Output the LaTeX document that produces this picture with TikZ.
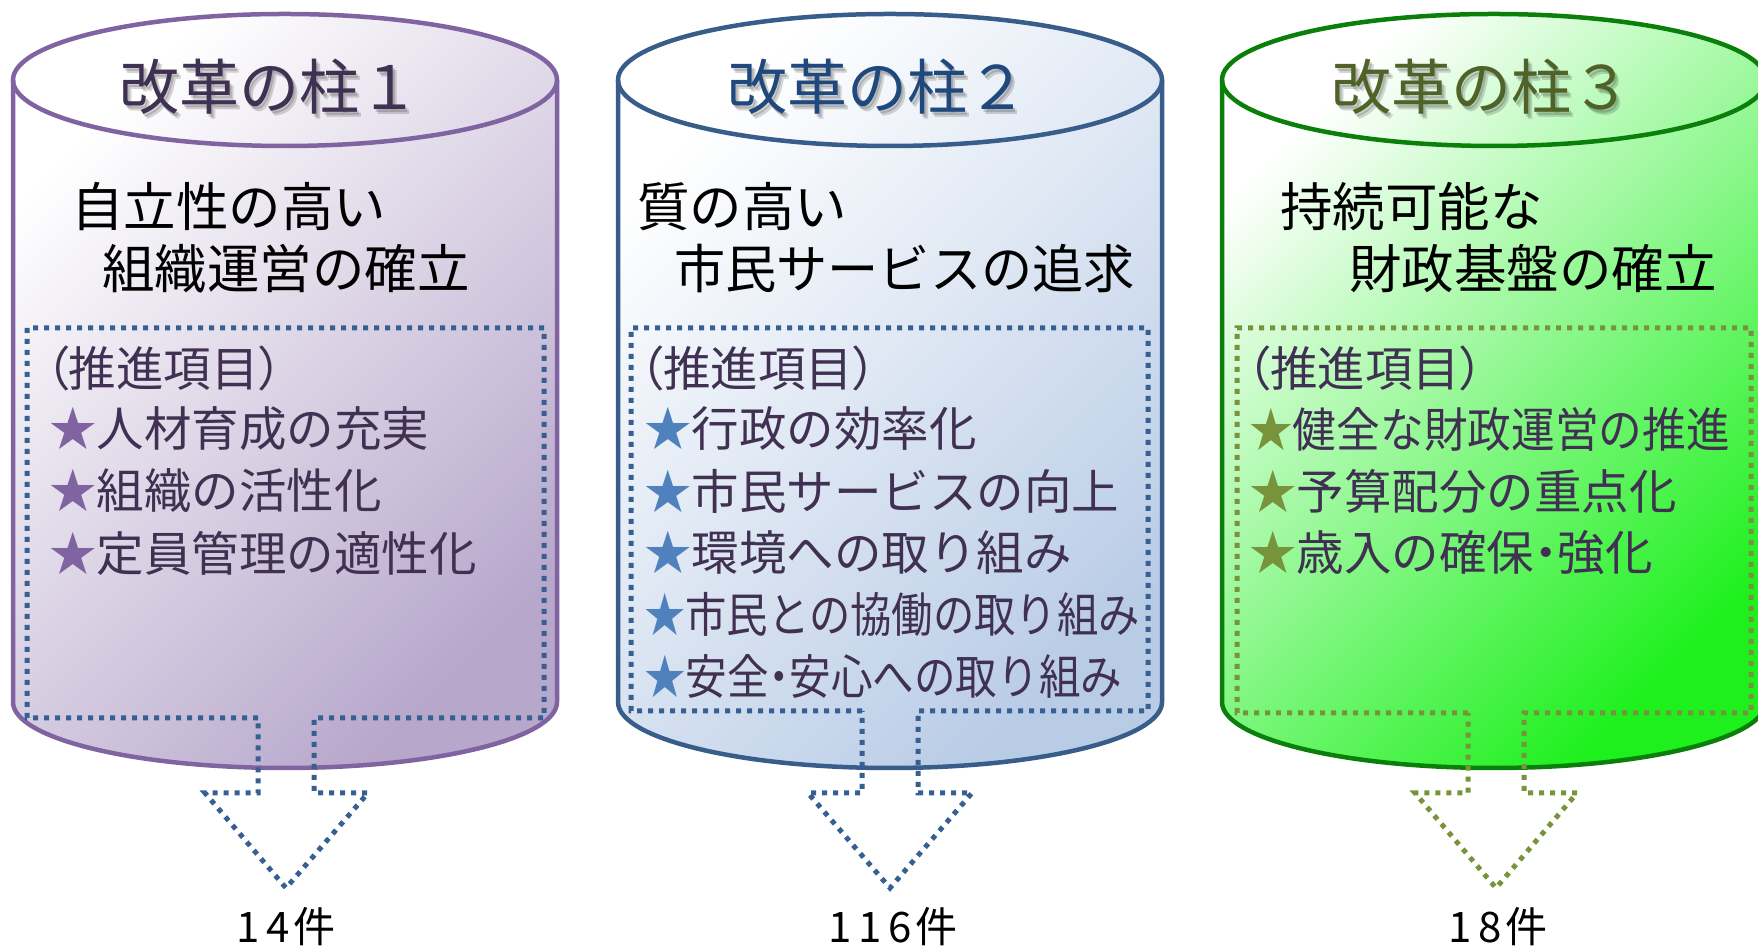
\documentclass[tikz,border=0pt]{standalone}
\usepackage{fontspec}
\usepackage{graphicx}
\setmainfont{Noto Sans CJK JP}
\newfontfamily\jpp{Noto Sans CJK JP}[RawFeature=+palt]
\definecolor{purpEdge}{HTML}{8064A2}
\definecolor{purpFill}{HTML}{B7A7CB}
\definecolor{purpTitle}{HTML}{3F3151}
\definecolor{itemText}{HTML}{403152}
\definecolor{blueEdge}{HTML}{385D8A}
\definecolor{blueFill}{HTML}{B9CCE6}
\definecolor{blueMid}{HTML}{CAD8EF}
\definecolor{blueTitle}{HTML}{1F497D}
\definecolor{blueStar}{HTML}{4F81BD}
\definecolor{dotBlue}{HTML}{376092}
\definecolor{greenEdge}{HTML}{0A7F0A}
\definecolor{greenFill}{HTML}{1EF01E}
\definecolor{greenTitle}{HTML}{4F6228}
\definecolor{oliveC}{HTML}{77933C}
\tikzset{
  canline/.style={line width=4.5pt},
  dotline/.style={line width=5pt, dash pattern=on 5pt off 6pt},
  titletext/.style={font=\fontsize{60}{60}\selectfont, inner sep=0pt},
  shadowtext/.style={titletext, text=black, opacity=0.16},
  heading/.style={font=\fontsize{52.5}{52.5}\selectfont, anchor=west, inner sep=0pt, text=black},
  item/.style={font=\fontsize{47.5}{47.5}\selectfont, anchor=west, inner sep=0pt, text=itemText},
  itemp/.style={item, font=\jpp\fontsize{47.5}{47.5}\selectfont},
  count/.style={font=\fontsize{42}{42}\selectfont, inner sep=0pt, text=black},
}
\newcommand\cancolumn[3]{%
  \shade[#3] (#1-272,869) -- (#1-272,247) arc[start angle=180,end angle=360,x radius=272,y radius=66]
     -- (#1+272,869) arc[start angle=0,end angle=180,x radius=272,y radius=66] -- cycle;
  \draw[canline,#2] (#1-272,869) -- (#1-272,247) arc[start angle=180,end angle=360,x radius=272,y radius=66]
     -- (#1+272,869);
  \draw[canline,#2] (#1,869) ellipse [x radius=272,y radius=66];
}
\newcommand\dotarrow[9]{% #1 color, #2 left, #3 right, #4 bottom, #5 notch l, #6 notch r, #7 head l, #8 head r, #9 apex x
  \draw[dotline,#1] (#5,#4) -- (#2,#4) -- (#2,621) -- (#3,621) -- (#3,#4) -- (#6,#4) -- (#6,156)
     -- (#8,156) -- (#9,61) -- (#7,156) -- (#5,156) -- cycle;
}
\newcommand\pillartitle[4]{% #1 x, #2 colour, #3 text, #4 name
  \node[shadowtext] at (#1+2,859) {#3};
  \node[shadowtext] at (#1+4,857) {#3};
  \node[titletext, text=#2] (#4) at (#1,862) {#3};
}
\newcommand\mdot{\makebox[0.5em]{・}}
\newcommand\dg[1]{\makebox[0.72em]{#1}}
\begin{document}
\begin{tikzpicture}[x=1pt,y=1pt]
\useasboundingbox (0,0) rectangle (1758,949);
\clip (0,0) rectangle (1758,949);

% cylinders
\cancolumn{285}{purpEdge}{left color=white, right color=purpFill, shading angle=45}
\cancolumn{890}{blueEdge}{left color=white, middle color=blueMid, right color=blueFill, shading angle=45}
\cancolumn{1494}{greenEdge}{left color=white, right color=greenFill, shading angle=45}

% dotted boxes with arrows
\dotarrow{dotBlue}{27}{544}{231}{258}{314}{205}{368}{286}
\dotarrow{dotBlue}{631}{1148}{238}{862}{918}{808}{972}{890}
\dotarrow{oliveC}{1237}{1751}{236}{1468}{1524}{1415}{1577}{1496}

% titles
\pillartitle{269}{purpTitle}{改革の柱１}{t1}
\pillartitle{877}{blueTitle}{改革の柱２}{t2}
\pillartitle{1481}{greenTitle}{改革の柱３}{t3}

% headings
\node[heading] (h1a) at (71,742) {自立性の高い};
\node[heading] (h1b) at (102,680) {組織運営の確立};
\node[heading] (h2a) at (637,742) {質の高い};
\node[heading] (h2b) at (674,680) {\scalebox{0.975}[1]{市民サービスの追求}};
\node[heading] (h3a) at (1280,742) {持続可能な};
\node[heading] (h3b) at (1349,680) {財政基盤の確立};

% items pillar 1
\node[itemp] (p1) at (45,581) {（推進項目）};
\node[item] (i1a) at (49,520) {{\color{purpEdge}★}人材育成の充実};
\node[item] (i1b) at (49,458) {{\color{purpEdge}★}組織の活性化};
\node[item] (i1c) at (49,396) {{\color{purpEdge}★}定員管理の適性化};

% items pillar 2
\node[itemp] (p2) at (639,581) {（推進項目）};
\node[item] (i2a) at (644,520) {{\color{blueStar}★}行政の効率化};
\node[item] (i2b) at (644,458) {{\color{blueStar}★}市民サービスの向上};
\node[item] (i2c) at (644,396) {{\color{blueStar}★}環境への取り組み};
\node[item] (i2d) at (644,335) {\scalebox{0.87}[1]{{\color{blueStar}★}市民との協働の取り組み}};
\node[item] (i2e) at (644,273) {\scalebox{0.875}[1]{{\color{blueStar}★}安全\mdot 安心への取り組み}};

% items pillar 3
\node[itemp] (p3) at (1246,581) {（推進項目）};
\node[item] (i3a) at (1249,520) {\scalebox{0.92}[1]{{\color{oliveC}★}健全な財政運営の推進}};
\node[item] (i3b) at (1249,458) {{\color{oliveC}★}予算配分の重点化};
\node[item] (i3c) at (1249,396) {{\color{oliveC}★}歳入の確保\mdot 強化};

% counts
\node[count] (n1) at (284,22) {\dg{1}\dg{4}件};
\node[count] (n2) at (891,22) {\dg{1}\dg{1}\dg{6}件};
\node[count] (n3) at (1496,22) {\dg{1}\dg{8}件};
\end{tikzpicture}
\end{document}
